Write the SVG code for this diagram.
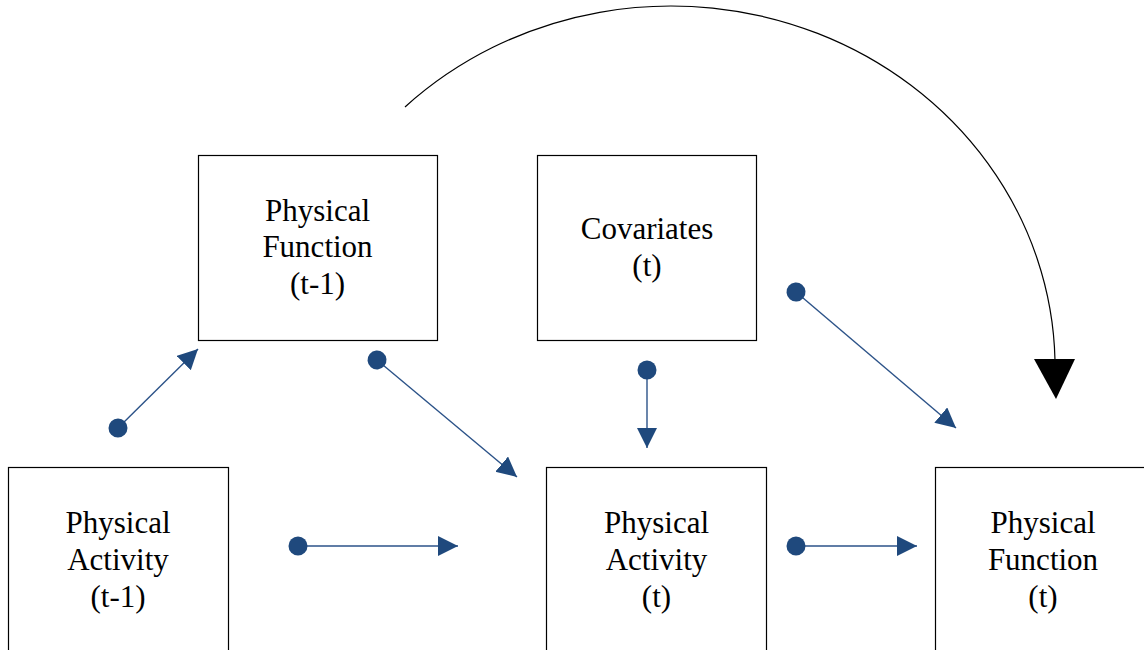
<svg xmlns="http://www.w3.org/2000/svg" width="1144" height="650" viewBox="0 0 1144 650">
<style>
.box{fill:#fff;stroke:#000;stroke-width:1.2}
.lbl{font-family:"Liberation Serif","Times New Roman",serif;font-size:31px;fill:#000;text-anchor:middle}
.con{stroke:#2b5288;stroke-width:1.4;fill:none;marker-start:url(#dot);marker-end:url(#tri)}
</style>
<defs>
<marker id="tri" markerUnits="userSpaceOnUse" markerWidth="21" markerHeight="21" refX="20" refY="10" orient="auto" viewBox="0 0 21 21">
<path d="M0,0 L20,10 L0,20 z" fill="#1f497d"/>
</marker>
<marker id="dot" markerUnits="userSpaceOnUse" markerWidth="20" markerHeight="20" refX="10" refY="10" orient="auto" viewBox="0 0 20 20">
<circle cx="10" cy="10" r="9.5" fill="#1f497d"/>
</marker>
</defs>
<rect width="1144" height="650" fill="#fff"/>
<g id="pa_t1">
<rect class="box" x="8.5" y="467.5" width="220" height="200"/>
<text class="lbl" x="118" y="533">Physical</text>
<text class="lbl" x="118" y="570">Activity</text>
<text class="lbl" x="118" y="607">(t-1)</text>
</g>
<g id="pf_t1">
<rect class="box" x="198.5" y="155.5" width="239" height="185"/>
<text class="lbl" x="317.5" y="221">Physical</text>
<text class="lbl" x="317.5" y="257">Function</text>
<text class="lbl" x="317.5" y="294">(t-1)</text>
</g>
<g id="cov_t">
<rect class="box" x="537.5" y="155.5" width="219" height="185"/>
<text class="lbl" x="647" y="239">Covariates</text>
<text class="lbl" x="647" y="276">(t)</text>
</g>
<g id="pa_t">
<rect class="box" x="546.5" y="467.5" width="220" height="200"/>
<text class="lbl" x="656.5" y="533">Physical</text>
<text class="lbl" x="656.5" y="570">Activity</text>
<text class="lbl" x="656.5" y="607">(t)</text>
</g>
<g id="pf_t">
<rect class="box" x="935.5" y="467.5" width="220" height="200"/>
<text class="lbl" x="1043" y="533">Physical</text>
<text class="lbl" x="1043" y="570">Function</text>
<text class="lbl" x="1043" y="607">(t)</text>
</g>
<g id="connectors">
<line class="con" x1="118" y1="428" x2="198" y2="349"/>
<line class="con" x1="377" y1="360" x2="517" y2="477"/>
<line class="con" x1="647" y1="370" x2="647" y2="448"/>
<line class="con" x1="796" y1="292" x2="956" y2="428"/>
<line class="con" x1="298" y1="546" x2="458" y2="546"/>
<line class="con" x1="796" y1="546" x2="917" y2="546"/>
<path d="M405,107 A384,362 0 0 1 1055,360" fill="none" stroke="#000" stroke-width="1.2"/>
<path d="M1034,359 L1075,359 L1056,399 z" fill="#000"/>
</g>
</svg>
